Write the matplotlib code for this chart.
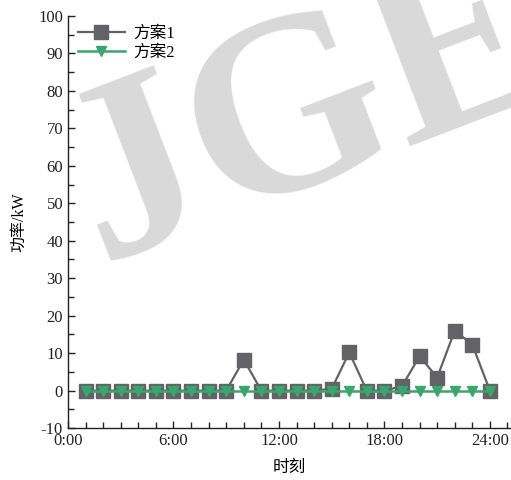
import matplotlib.pyplot as plt
from matplotlib.ticker import MultipleLocator, FixedLocator

# hourly power of the two schemes
hours = list(range(1, 25))
scheme1 = [0, 0, 0, 0, 0, 0, 0, 0, 0, 8.3, 0, 0, 0, 0, 0.5, 10.2,
           0, 0, 1.2, 9.2, 3.5, 16.0, 12.3, 0]
scheme2 = [0] * 24
series_names = ["方案1", "方案2"]
xtick_pos = [0, 6, 12, 18, 24]
xtick_labels = ["0:00", "6:00", "12:00", "18:00", "24:00"]

font_list = ["Liberation Serif", "Noto Sans CJK SC"]
plt.rcParams["font.family"] = font_list
plt.rcParams["axes.unicode_minus"] = False

gray = "#626267"
green = "#3AA56C"

fig = plt.figure(figsize=(5.11, 4.80), dpi=100)
ax = fig.add_axes([0.133, 0.108, 0.867, 0.859])
ax.set_facecolor("none")

# watermark
fig.text(0.195, 0.455, "JGEE", fontsize=185, fontweight="bold",
         color="#d9d9d9", rotation=21, rotation_mode="anchor",
         ha="left", va="baseline", family="Liberation Serif", zorder=0)

ax.plot(hours, scheme1, color=gray, linewidth=1.6, marker="s",
        markersize=10, label=series_names[0], zorder=3)
ax.plot(hours, scheme2, color=green, linewidth=1.8, marker="v",
        markersize=7, label=series_names[1], zorder=4)

ax.set_xlim(0, 25.2)
ax.set_ylim(-10, 100)
ax.xaxis.set_major_locator(FixedLocator(xtick_pos))
ax.set_xticklabels(xtick_labels)
ax.xaxis.set_minor_locator(MultipleLocator(1))
ax.yaxis.set_major_locator(MultipleLocator(10))
ax.yaxis.set_minor_locator(MultipleLocator(5))

for side in ["top", "right"]:
    ax.spines[side].set_visible(False)
for side in ["left", "bottom"]:
    ax.spines[side].set_linewidth(1.0)
    ax.spines[side].set_color("#222222")

ax.tick_params(which="both", direction="in", labelsize=12, colors="#222222")
ax.tick_params(which="major", length=5, width=1.0)
ax.tick_params(which="minor", length=4, width=1.0)

ax.set_xlabel("时刻", fontsize=12, labelpad=8)
ax.set_ylabel("功率/kW", fontsize=11.5, labelpad=8)

ax.legend(loc="upper left", frameon=False, fontsize=12, handlelength=2.8,
          borderaxespad=0.2, handletextpad=0.5, labelspacing=0.2)

fig.savefig("out.png", dpi=100)
